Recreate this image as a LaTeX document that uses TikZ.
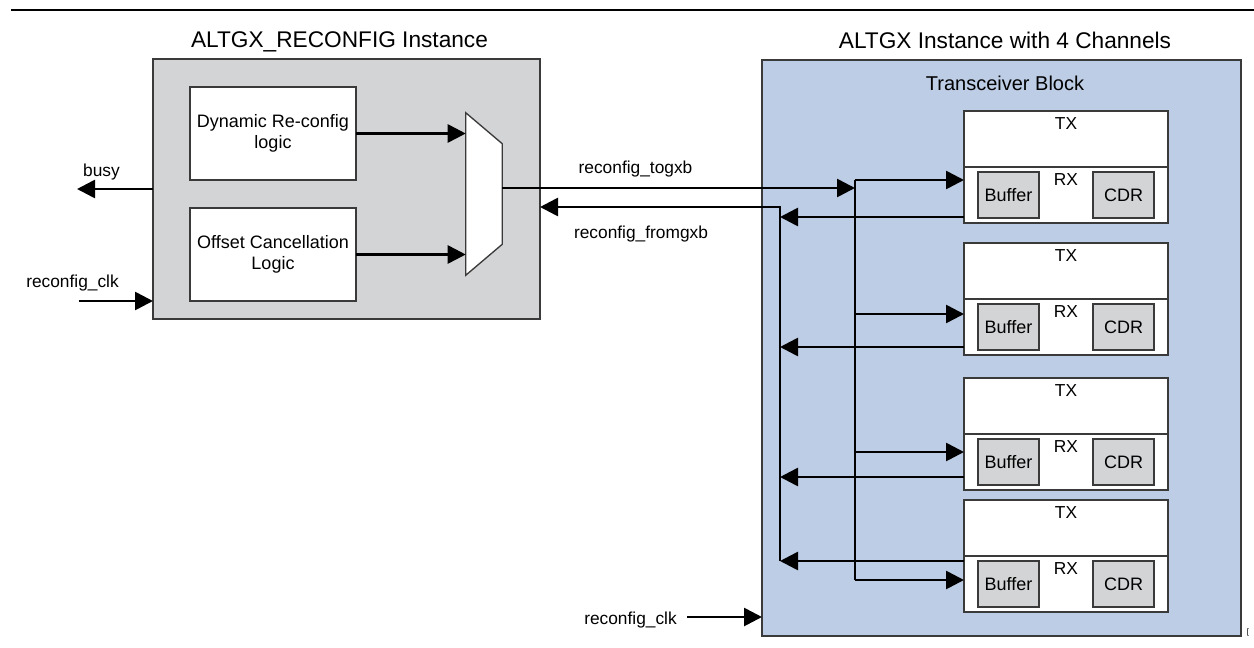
\documentclass[tikz,border=0pt]{standalone}
\usepackage{fontspec}
\setmainfont{Liberation Sans}
\usetikzlibrary{positioning, arrows.meta, calc}
\newlength{\pxu}
\setlength{\pxu}{0.75pt}
\definecolor{instgray}{HTML}{D3D4D6}
\definecolor{gxbblue}{HTML}{BDCDE5}
\definecolor{edgegray}{HTML}{3A3A3A}

\begin{document}
\begin{tikzpicture}[
    x=0.75pt, y=-0.75pt,
    box/.style={draw=edgegray, line width=1pt, outer sep=0pt, inner sep=0pt,
                align=center, font=\fontsize{13.5}{16}\selectfont},
    logicbox/.style={box, fill=white, minimum width=166\pxu, minimum height=93\pxu},
    instbox/.style={box, fill=instgray},
    gxbbox/.style={box, fill=gxbblue},
    halfbox/.style={box, fill=white, minimum width=204\pxu, minimum height=56\pxu},
    subbox/.style={box, fill=instgray, minimum width=61\pxu, minimum height=46\pxu,
                   font=\fontsize{13.5}{16}\selectfont},
    title/.style={font=\fontsize{17}{20}\selectfont, anchor=base, inner sep=0pt},
    sig/.style={font=\fontsize{13}{15}\selectfont, anchor=base, inner sep=0pt},
    part/.style={font=\fontsize{13}{15}\selectfont, inner sep=0pt},
    arrow/.style={-{Triangle[length=13.5pt, width=13.5pt]}, line width=2pt},
    bus/.style={line width=2pt},
]
\useasboundingbox (0,0) rectangle (1254,647);

% ── Top rule ─────────────────────────────────────────────────────────────
\draw[line width=1.8pt] (11,10) -- (1254,10);

% ── ALTGX_RECONFIG instance ──────────────────────────────────────────────
\node[instbox, minimum width=387\pxu, minimum height=260\pxu] (recfg) at (346.5,189) {};
\node[title] (recfgtitle) at (339.5,47) {ALTGX\_RECONFIG Instance};
\node[logicbox] (dyn) at (273,133.5) {Dynamic Re-config\\logic};
\node[logicbox] (offs) at (273,254.5) {Offset Cancellation\\Logic};

% ── Mux ──────────────────────────────────────────────────────────────────
\node[inner sep=0pt, minimum width=36\pxu, minimum height=162\pxu] (mux) at (484,194) {};
\draw[fill=white, draw=edgegray, line width=1pt]
    (mux.north west) -- ($(mux.north east)+(0,31)$) --
    ($(mux.south east)+(0,-31)$) -- (mux.south west) -- cycle;
\draw[arrow] (dyn.east) -- (dyn.east -| mux.west);
\draw[arrow] (offs.east) -- (offs.east -| mux.west);

% ── busy / reconfig_clk (left) ───────────────────────────────────────────
\coordinate (busy) at (77,189);
\draw[arrow] (busy -| recfg.west) -- (busy);
\node[sig] (busylbl) at (101.5,176) {busy};
\coordinate (clkL) at (79,301);
\draw[arrow] (clkL) -- (clkL -| recfg.west);
\node[sig] (clkLlbl) at (72.5,287) {reconfig\_clk};

% ── ALTGX instance ───────────────────────────────────────────────────────
\node[gxbbox, minimum width=479\pxu, minimum height=576\pxu] (gxb) at (1001.5,348) {};
\node[title] (gxbtitle) at (1005,48) {ALTGX Instance with 4 Channels};
\node[title, font=\fontsize{15}{18}\selectfont] (trx) at (1005,90) {Transceiver Block};

% ── Channels ─────────────────────────────────────────────────────────────
\foreach \i/\top in {1/111, 2/243, 3/378, 4/500} {
    \node[halfbox, anchor=north] (tx\i) at (1066,\top) {};
    \node[halfbox, below=0pt of tx\i] (rx\i) {};
    \node[part, below=6\pxu of tx\i.north] (txl\i) {TX};
    \node[part, below=6\pxu of rx\i.north] (rxl\i) {RX};
    \node[subbox] (buf\i) at ($(rx\i.center)+(-57.5,0)$) {Buffer};
    \node[subbox] (cdr\i) at ($(rx\i.center)+(57.5,0)$) {CDR};
}

% ── reconfig_togxb / reconfig_fromgxb buses ──────────────────────────────
\coordinate (togxb) at (855,188);
\coordinate (bustop) at (855,180);
\coordinate (busbot) at (855,580);
\coordinate (fromtop) at (780,207);
\coordinate (frombot) at (780,561);
\draw[arrow] (togxb -| mux.east) -- (togxb);
\draw[bus] (bustop) -- (busbot);
\draw[arrow] (frombot) -- (fromtop) -- (fromtop -| recfg.east);
\node[sig] (togxblbl) at (635.5,173) {reconfig\_togxb};
\node[sig] (fromgxblbl) at (641,238) {reconfig\_fromgxb};

\foreach \i/\iny/\outy in {1/180/217, 2/314/347, 3/452/477, 4/580/561} {
    \draw[arrow] (bustop |- 0,\iny) -- (rx\i.west |- 0,\iny);
    \draw[arrow] (rx\i.west |- 0,\outy) -- (fromtop |- 0,\outy);
}

% ── reconfig_clk (right) ─────────────────────────────────────────────────
\coordinate (clkR) at (687,617);
\draw[arrow] (clkR) -- (clkR -| gxb.west);
\node[sig] (clkRlbl) at (630.5,624) {reconfig\_clk};

\node[font=\fontsize{6}{6}\selectfont, inner sep=0pt] (mark) at (1248,632) {[};

\end{tikzpicture}
\end{document}
